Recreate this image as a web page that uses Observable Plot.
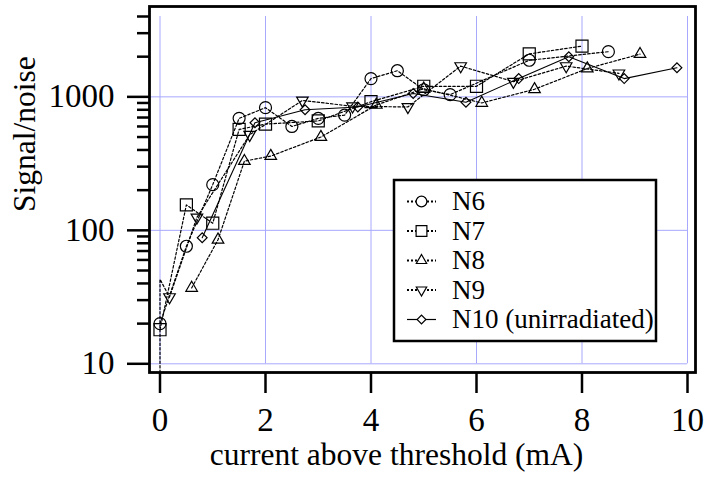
<!DOCTYPE html>
<html><head><meta charset="utf-8">
<script src="https://cdn.jsdelivr.net/npm/d3@7"></script>
<script src="https://cdn.jsdelivr.net/npm/@observablehq/plot@0.6"></script>
<style>
html,body{margin:0;padding:0;background:#fff;}
#chart svg{display:block;}
#chart svg text{font-family:"Liberation Serif","Times New Roman",serif;}
</style></head><body><div id="chart"></div>
<script>
// ---- data ----
const seriesNames = ["N6", "N7", "N8", "N9", "N10 (unirradiated)"];

const n6X = [0, 0.5, 1.0, 1.5, 2.0, 2.5, 3.0, 3.5, 4.0, 4.5, 5.0, 5.5, 7.0, 8.5];
const n6Y = [20, 76, 220, 690, 830, 600, 690, 730, 1370, 1570, 1130, 1040, 1880, 2180];

const n7X = [0, 0.5, 1.0, 1.5, 2.0, 3.0, 4.0, 5.0, 6.0, 7.0, 8.0];
const n7Y = [18, 155, 113, 570, 625, 660, 920, 1200, 1200, 2100, 2400];

const n8X = [0.6, 1.1, 1.6, 2.1, 3.05, 4.1, 5.0, 6.1, 7.1, 8.1, 9.1];
const n8Y = [37, 85, 330, 360, 500, 870, 1150, 900, 1140, 1630, 2090];

const n9X = [0.18, 0.7, 1.7, 2.7, 3.65, 4.7, 5.7, 6.7, 7.7, 8.7];
const n9Y = [31.6, 125, 520, 940, 850, 840, 1700, 1300, 1700, 1500];
// N9 readings at x = 0 whose markers do not show in the reference (line only)
const n9LeadX = [0, 0];
const n9LeadY = [5, 43];

const n10X = [0.8, 1.8, 2.75, 3.75, 4.8, 5.8, 6.8, 7.75, 8.8, 9.8];
const n10Y = [88, 640, 800, 840, 1060, 910, 1370, 2000, 1370, 1650];

const xTicks = [0, 2, 4, 6, 8, 10];
const yMajorTicks = [10, 100, 1000];
const yMinorTicks = [20, 30, 40, 50, 60, 70, 80, 90, 200, 300, 400, 500, 600, 700, 800, 900, 2000, 3000, 4000];
const xLabel = "current above threshold (mA)";
const yLabel = "Signal/noise";

// ---- styles ----
const serif = "Liberation Serif";
const tickFont = 33;
const symbolNames = ["circle", "square", "triangle", "triangle", "square"];
const symbolRotate = [0, 0, 0, 180, 45];
const symbolR = [6, 6.8, 4.3, 4.3, 3.9];
const dashed = [true, true, true, true, false];
const gridColor = "#a8a8ff";

const seriesX = [n6X, n7X, n8X, n9X, n10X];
const seriesY = [n6Y, n7Y, n8Y, n9Y, n10Y];
const toRows = (xs, ys) => xs.map((x, i) => ({x, y: ys[i]}));
const pointRows = seriesX.map((xs, k) => toRows(xs, seriesY[k]));
const lineRows = pointRows.map((rows, k) => k === 3 ? toRows(n9LeadX, n9LeadY).concat(rows) : rows);

const lineMarks = lineRows.map((rows, k) => Plot.line(rows, {
  x: "x", y: "y", stroke: "black",
  strokeWidth: dashed[k] ? 1.2 : 1.1,
  strokeDasharray: dashed[k] ? "2.5,2" : null,
  clip: true
}));
const dotMarks = pointRows.map((rows, k) => Plot.dot(rows, {
  x: "x", y: "y", symbol: symbolNames[k], rotate: symbolRotate[k], r: symbolR[k],
  fill: "none", stroke: "black", strokeWidth: 1.2
}));

const svg = Plot.plot({
  width: 705, height: 479,
  marginLeft: 149, marginRight: 10, marginTop: 6, marginBottom: 107,
  insetLeft: 10.5, insetRight: 8, insetTop: 10, insetBottom: 8.7,
  x: {domain: [0, 10]},
  y: {type: "log", domain: [10, 4000]},
  style: "font-family: 'Liberation Serif', serif; font-size: 30px; color: black; background: white;",
  marks: [
    Plot.gridX(xTicks, {stroke: gridColor, strokeOpacity: 1, strokeWidth: 1, insetTop: 10, insetBottom: 8.7}),
    Plot.gridY(yMajorTicks, {stroke: gridColor, strokeOpacity: 1, strokeWidth: 1, insetRight: 8}),
    ...lineMarks,
    ...dotMarks,
    Plot.frame({stroke: "black", strokeWidth: 2.8}),
    Plot.axisX(xTicks, {tickSize: 21, tickPadding: 14, strokeWidth: 2.5, fontSize: tickFont, fontFamily: serif, label: null, tickFormat: d => String(d)}),
    Plot.axisY(yMajorTicks, {tickSize: 22, tickPadding: 13, strokeWidth: 2.5, fontSize: tickFont, fontFamily: serif, label: null, tickFormat: d => String(d)}),
    Plot.axisY(yMinorTicks, {tickSize: 12, strokeWidth: 2.5, label: null, tickFormat: () => ""}),
    Plot.text([yLabel], {text: d => d, frameAnchor: "left", rotate: -90, dx: -115, dy: 22.5, lineAnchor: "bottom", fontSize: 31.5, fontFamily: serif, fill: "black"}),
    Plot.text([xLabel], {text: d => d, frameAnchor: "bottom", dx: -26, dy: 92, lineAnchor: "bottom", fontSize: 31.5, fontFamily: serif, fill: "black"})
  ]
});
document.getElementById("chart").appendChild(svg);

// make sure tick labels use the serif face at full size
const tickTexts = [];
svg.querySelectorAll("text").forEach(t => {
  const s = t.textContent;
  if (/^\d+$/.test(s)) tickTexts.push(t);
});
tickTexts.forEach(t => {
  t.setAttribute("font-size", tickFont);
  t.style.fontSize = tickFont + "px";
  t.style.fontFamily = "'Liberation Serif', serif";
});

// ---- legend box (drawn in pixel space inside the plot) ----
const lg = d3.select(svg).append("g").attr("class", "legend");
const box = {x: 394, y: 180, w: 262, h: 161};
lg.append("rect").attr("x", box.x).attr("y", box.y).attr("width", box.w).attr("height", box.h)
  .attr("fill", "white").attr("stroke", "black").attr("stroke-width", 2.5);
const symMap = {circle: d3.symbolCircle, square: d3.symbolSquare, triangle: d3.symbolTriangle};
seriesNames.forEach((name, k) => {
  const cy = 201.5 + k * 29.5;
  lg.append("line").attr("x1", 407).attr("x2", 436).attr("y1", cy).attr("y2", cy)
    .attr("stroke", "black").attr("stroke-width", dashed[k] ? 2 : 1.2)
    .attr("stroke-dasharray", dashed[k] ? "2,2" : null);
  lg.append("path")
    .attr("d", d3.symbol(symMap[symbolNames[k]], Math.PI * symbolR[k] * symbolR[k] * 0.8)())
    .attr("transform", `translate(421.5,${cy}) rotate(${symbolRotate[k]})`)
    .attr("fill", "white").attr("stroke", "black").attr("stroke-width", 1.2);
  lg.append("text").attr("x", 452).attr("y", cy).attr("dy", "0.32em")
    .attr("text-anchor", "start")
    .style("font-family", "'Liberation Serif', serif").style("font-size", "27px")
    .attr("fill", "black").text(name);
});
</script>
</body></html>
